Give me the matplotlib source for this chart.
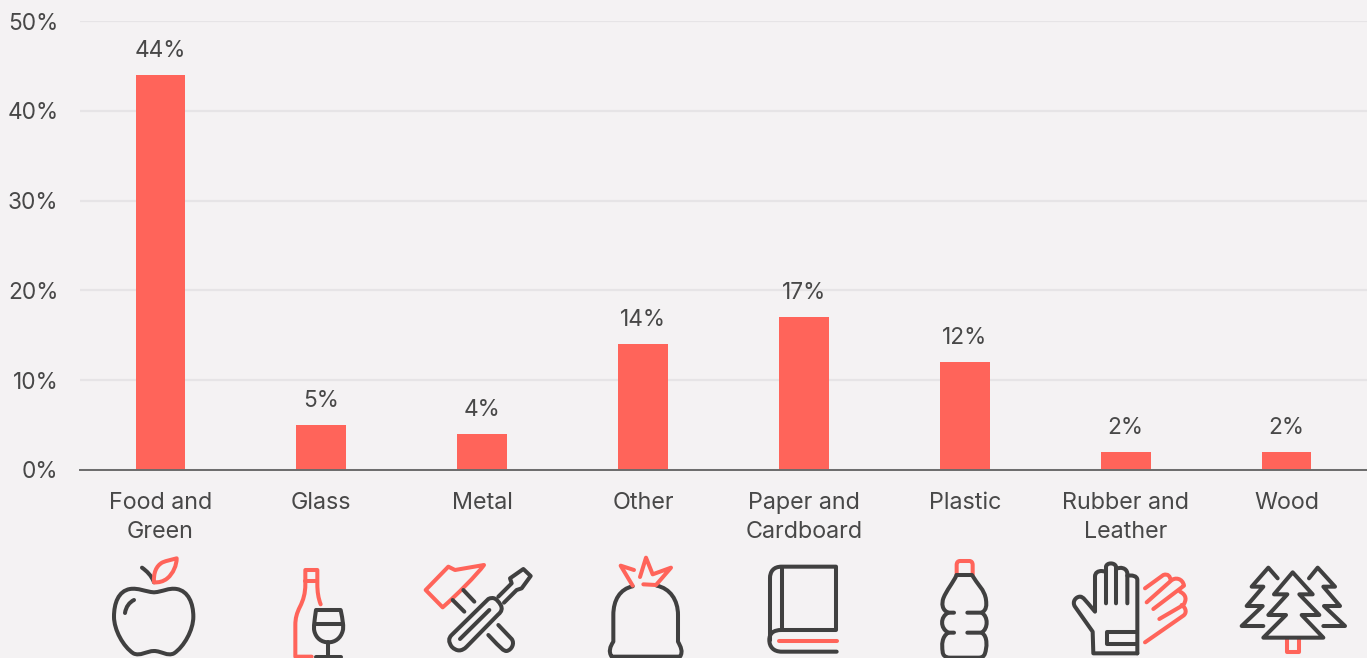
import re

import matplotlib
matplotlib.use("Agg")
import matplotlib.pyplot as plt
import matplotlib.patches as mpatches
from matplotlib.path import Path

categories = ["Food and\nGreen", "Glass", "Metal", "Other", "Paper and\nCardboard",
              "Plastic", "Rubber and\nLeather", "Wood"]
shares = [44, 5, 4, 14, 17, 12, 2, 2]
y_ticks = [0, 10, 20, 30, 40, 50]

BG = "#F4F2F3"
RED = "#FF645A"
DARK = "#404040"
TEXT = "#484848"
GRID = "#E6E4E6"
AXIS = "#6B6B6B"

plt.rcParams["font.family"] = ["Inter", "DejaVu Sans"]

# icon outlines, written at 3x scale around their own origin
ICONS = [
    ((80, 545), DARK, [
        "M222 142 C195 140 175 128 150 132 C115 138 102 175 102 215 C102 255 130 305 160 325 "
        "C180 335 200 318 222 318 C245 318 262 335 282 325 C312 305 340 255 340 215 "
        "C340 175 325 138 290 132 C265 128 250 140 222 142 Z",
        "M162 165 C148 172 138 185 135 204",
        "M186 68 C200 78 215 92 222 112",
    ]),
    ((80, 545), RED, [
        "M222 112 C220 85 228 62 248 52 C260 47 275 44 290 40 C290 60 280 85 262 100 C250 110 235 113 222 112 Z",
    ]),
    ((80, 545), RED, [
        "M722 178 C715 160 712 140 712 118 L712 75 L676 75 L676 118 C676 145 670 165 660 185 "
        "C650 205 646 220 646 240 L646 335 L695 335",
        "M676 108 L712 108",
    ]),
    ((80, 545), DARK, [
        "M708 195 L782 195 C788 225 792 245 788 258 C782 280 765 292 745 292 C725 292 708 280 703 258 "
        "C700 245 704 225 708 195 Z",
        "M704 238 L788 238",
        "M745 292 L745 335",
        "M708 337 L782 337",
    ]),
    ((80, 545), RED, [
        "M1037 135 L1105 65 L1125 75 L1212 60 C1190 90 1130 150 1088 187 Z",
    ]),
    ((80, 545), DARK, [
        "M1150 135 L1183 170",
        "M1118 165 L1153 200",
        "M1255 240 L1295 282 C1305 295 1295 315 1280 318 C1270 318 1265 312 1225 270",
        "M1225 162 C1240 155 1250 160 1262 180 C1268 190 1265 200 1255 208 L1160 305 "
        "C1145 320 1130 320 1115 305 C1105 290 1105 280 1115 270 Z",
        "M1140 282 L1228 195",
        "M1255 155 L1295 115 L1290 100 L1330 72 L1352 93 L1325 130 L1310 135 L1272 173",
    ]),
    ((560, 545), DARK, [
        "M218 124 C180 132 160 165 160 210 L160 290 C150 305 145 320 155 335 L360 335 "
        "C370 320 362 305 354 290 L354 210 C354 165 330 130 290 122",
    ]),
    ((560, 545), RED, [
        "M250 118 L288 120 L333 68 L278 88 L258 38 L240 96",
        "M218 122 L182 62 L222 75",
    ]),
    ((560, 545), DARK, [
        "M830 320 L665 320 C640 320 628 305 628 285 C628 265 640 255 665 255 L828 255 L828 65 L665 65 "
        "C640 65 630 80 630 100 L630 285",
        "M665 65 L665 255",
    ]),
    ((560, 545), RED, [
        "M656 288 L830 288",
        "M1190 90 L1190 60 C1190 52 1194 48 1200 48 L1228 48 C1234 48 1238 52 1238 60 L1238 90",
    ]),
    ((560, 545), DARK, [
        "M1190 90 L1236 90 C1250 115 1275 135 1278 165 C1280 180 1280 195 1265 203 L1222 203",
        "M1265 203 C1285 215 1285 250 1265 263 L1222 263",
        "M1265 263 C1285 275 1280 310 1275 325 C1272 335 1265 338 1255 338 L1170 338 "
        "C1155 338 1148 330 1148 320 C1145 300 1145 275 1165 263 L1182 263",
        "M1165 263 C1140 250 1140 215 1165 203 L1182 203",
        "M1165 203 C1145 195 1145 175 1150 160 C1160 135 1178 115 1190 90",
    ]),
    ((1000, 545), DARK, [
        "M412 325 L280 325 L278 260 L225 185 C215 170 228 155 240 155 C250 155 255 165 285 200 "
        "L285 95 C285 82 295 78 305 78 L318 80 L318 175",
        "M318 80 L318 65 C320 52 345 52 348 65 L348 175",
        "M348 72 C360 65 380 68 382 85 L382 175",
        "M382 92 C395 90 412 92 412 105 L412 325",
        "M412 262 L322 262 L322 298 L412 298",
    ]),
    ((1000, 545), RED, [
        "M435 130 L490 90 C505 85 510 95 512 105",
        "M440 172 L512 108 C525 95 548 100 552 122 L460 192",
        "M540 140 C560 150 560 165 550 180 L478 222",
        "M545 180 C560 190 560 205 550 212 L435 292",
        "M862 280 L862 322 L898 322 L898 280",
    ]),
    ((1000, 545), DARK, [
        "M878 82 L938 148 L898 148 L958 210 L905 210 L970 278 L790 278 L858 210 L805 210 L862 148 L822 148 Z",
        "M833 100 L805 68 L755 125 L790 125 L740 183 L788 183 L725 243 L790 243",
        "M927 100 L953 68 L1005 125 L970 125 L1020 183 L972 183 L1035 243 L970 243",
    ]),
]


def icon_path(commands, origin):
    # small M/L/C/Z reader, returns a path in figure pixels
    verts, codes = [], []
    for cmd, args in re.findall(r"([MLCZ])([^MLCZ]*)", commands):
        nums = [float(v) for v in args.split()]
        pts = [(origin[0] + nums[i] / 3, origin[1] + nums[i + 1] / 3) for i in range(0, len(nums), 2)]
        if cmd == "M":
            verts += pts
            codes += [Path.MOVETO]
        elif cmd == "L":
            verts += pts
            codes += [Path.LINETO]
        elif cmd == "C":
            verts += pts
            codes += [Path.CURVE4] * 3
        else:
            verts.append(verts[0])
            codes.append(Path.CLOSEPOLY)
    return Path(verts, codes)


W, H = 1367, 658
fig = plt.figure(figsize=(W / 100, H / 100), dpi=100, facecolor=BG)
ax = fig.add_axes([80 / W, (H - 470) / H, (W - 80) / W, 449 / H], facecolor=BG)

x = range(len(categories))
ax.bar(x, shares, width=0.31, color=RED, zorder=3)
for i, v in zip(x, shares):
    ax.annotate(f"{v}%", (i, v), xytext=(0, 9.6), textcoords="offset points",
                ha="center", va="bottom", fontsize=16.3, color=TEXT)

ax.set_xlim(-0.5, len(categories) - 0.5)
ax.set_ylim(0, 50)
ax.set_yticks(y_ticks)
ax.set_yticklabels([f"{t}%" for t in y_ticks], fontsize=16.3, color=TEXT)
ax.set_xticks(list(x))
ax.set_xticklabels(categories, fontsize=16.8, color=TEXT, linespacing=1.42)
ax.tick_params(axis="y", length=0, pad=15.5)
ax.tick_params(axis="x", length=0, pad=15.5)
ax.yaxis.grid(True, color=GRID, lw=1.6, zorder=0)
ax.set_axisbelow(True)
for side in ["top", "left", "right"]:
    ax.spines[side].set_visible(False)
ax.spines["bottom"].set_color(AXIS)
ax.spines["bottom"].set_linewidth(1.4)
ax.spines["bottom"].set_zorder(4)

# overlay in pixel coordinates for the material icons
ov = fig.add_axes([0, 0, 1, 1], facecolor="none")
ov.set_xlim(0, W)
ov.set_ylim(H, 0)
ov.axis("off")
for origin, colour, strokes in ICONS:
    for s in strokes:
        ov.add_patch(mpatches.PathPatch(icon_path(s, origin), fill=False, edgecolor=colour,
                                        lw=2.9, capstyle="round", joinstyle="round"))

fig.savefig("out.png", dpi=100, facecolor=BG)
